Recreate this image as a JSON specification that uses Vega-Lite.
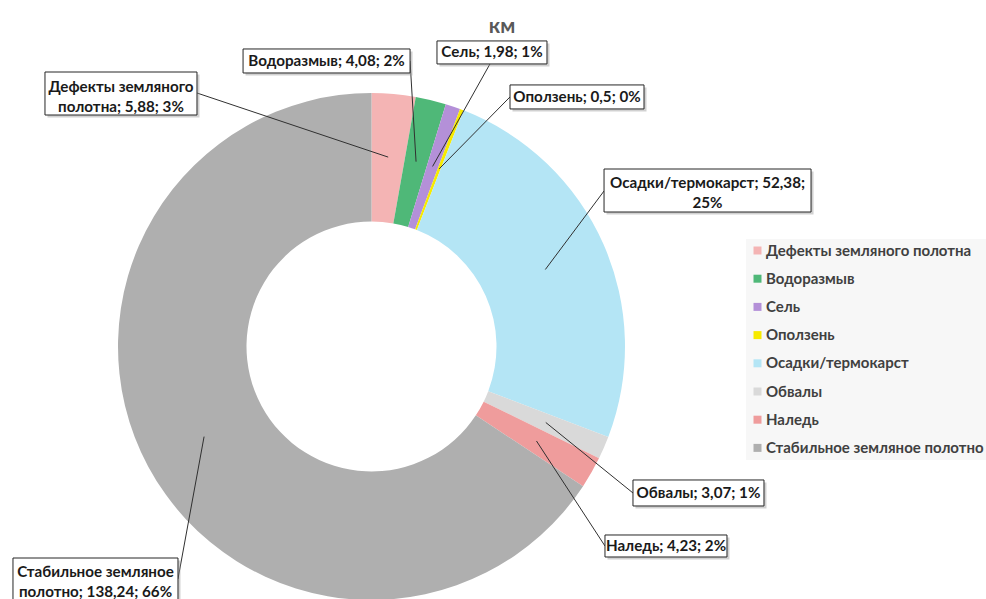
{
  "$schema": "https://vega.github.io/schema/vega-lite/v6.json",
  "width": 986,
  "height": 599,
  "autosize": "none",
  "padding": 0,
  "background": "white",
  "config": {"view": {"stroke": null}},
  "title": {"text": "км", "font": "Lato", "fontSize": 21, "fontWeight": "bold", "color": "#595959", "anchor": "middle", "frame": "group", "dx": 9, "dy": 22, "offset": -32, "baseline": "alphabetic"},
  "data": {"values": [
    {"cat": "Дефекты земляного полотна", "value": 5.88},
    {"cat": "Водоразмыв", "value": 4.08},
    {"cat": "Сель", "value": 1.98},
    {"cat": "Оползень", "value": 0.5},
    {"cat": "Осадки/термокарст", "value": 52.38},
    {"cat": "Обвалы", "value": 3.07},
    {"cat": "Наледь", "value": 4.23},
    {"cat": "Стабильное земляное полотно", "value": 138.24}
  ]},
  "transform": [
    {"window": [{"op": "row_number", "as": "idx"}]},
    {"joinaggregate": [{"op": "sum", "field": "value", "as": "total"}]},
    {"window": [{"op": "sum", "field": "value", "as": "cum"}], "sort": [{"field": "idx"}], "frame": [null, 0]},
    {"calculate": "(datum.cum - datum.value / 2) / datum.total * 2 * PI", "as": "mid"},
    {"calculate": "0.75 * sin(datum.mid)", "as": "ax"},
    {"calculate": "0.75 * cos(datum.mid)", "as": "ay"},
    {"calculate": "replace(toString(datum.value), '.', ',')", "as": "vs"},
    {"calculate": "round(datum.value / datum.total * 100) + '%'", "as": "pct"},
    {"calculate": "datum.cat + '; ' + datum.vs + '; ' + datum.pct", "as": "label"}
  ],
  "layer": [
    {
      "mark": {"type": "arc", "outerRadius": 253.5, "innerRadius": 125},
      "encoding": {
        "x": {"datum": 0, "type": "quantitative", "scale": {"domain": [-1.4655, 2.4241], "nice": false, "zero": false}, "axis": null},
        "y": {"datum": 0, "type": "quantitative", "scale": {"domain": [-0.99606, 1.36686], "nice": false, "zero": false}, "axis": null},
        "theta": {"field": "value", "type": "quantitative", "stack": true},
        "order": {"field": "idx", "type": "quantitative"},
        "color": {
          "field": "cat", "type": "nominal",
          "scale": {
            "domain": ["Дефекты земляного полотна", "Водоразмыв", "Сель", "Оползень", "Осадки/термокарст", "Обвалы", "Наледь", "Стабильное земляное полотно"],
            "range": ["#f4b4b4", "#4fb878", "#b490d8", "#f7ea00", "#b4e5f5", "#d9d9d9", "#ef9c9c", "#afafaf"]
          },
          "legend": {"orient": "none", "legendX": 746, "legendY": 239, "title": null, "symbolType": "square", "symbolSize": 64, "symbolStrokeWidth": 0, "labelFont": "Lato", "labelFontWeight": "bold", "labelFontSize": 15, "labelColor": "#404040", "rowPadding": 12.2, "fillColor": "#f7f7f7", "padding": 4, "labelLimit": 300, "labelOffset": 1}
        }
      }
    },
    {
      "transform": [{"filter": "datum.cat === 'Дефекты земляного полотна'"}, {"calculate": "replace(datum.cat, 'земляного ', 'земляного|') + '; ' + datum.vs + '; ' + datum.pct", "as": "lab"}],
      "encoding": {"x": {"field": "ax", "type": "quantitative"}, "y": {"field": "ay", "type": "quantitative"}},
      "layer": [
        {"mark": {"type": "rule", "x2Offset": -191.2, "y2Offset": -64.1, "color": "#303030", "strokeWidth": 1}, "encoding": {"x2": {"field": "ax"}, "y2": {"field": "ay"}}},
        {"mark": {"type": "rect", "xOffset": -340.7, "x2Offset": -188.7, "yOffset": -82.6, "y2Offset": -39.6, "fill": "#9a9a9a", "opacity": 0.45}, "encoding": {"x2": {"field": "ax"}, "y2": {"field": "ay"}}},
        {"mark": {"type": "rect", "xOffset": -343.2, "x2Offset": -191.2, "yOffset": -85.1, "y2Offset": -42.1, "fill": "white", "stroke": "#262626", "strokeWidth": 1}, "encoding": {"x2": {"field": "ax"}, "y2": {"field": "ay"}}},
        {"mark": {"type": "text", "dx": -267.2, "dy": -70.6, "align": "center", "baseline": "middle", "lineBreak": "|", "lineHeight": 20, "font": "Lato", "fontWeight": "bold", "fontSize": 15.2, "color": "#1a1a1a"}, "encoding": {"text": {"field": "lab"}}}
      ]
    },
    {
      "transform": [{"filter": "datum.cat === 'Водоразмыв'"}],
      "encoding": {"x": {"field": "ax", "type": "quantitative"}, "y": {"field": "ay", "type": "quantitative"}},
      "layer": [
        {"mark": {"type": "rule", "x2Offset": -6, "y2Offset": -100.7, "color": "#303030", "strokeWidth": 1}, "encoding": {"x2": {"field": "ax"}, "y2": {"field": "ay"}}},
        {"mark": {"type": "rect", "xOffset": -170.5, "x2Offset": -3.5, "yOffset": -110.2, "y2Offset": -86.2, "fill": "#9a9a9a", "opacity": 0.45}, "encoding": {"x2": {"field": "ax"}, "y2": {"field": "ay"}}},
        {"mark": {"type": "rect", "xOffset": -173, "x2Offset": -6, "yOffset": -112.7, "y2Offset": -88.7, "fill": "white", "stroke": "#262626", "strokeWidth": 1}, "encoding": {"x2": {"field": "ax"}, "y2": {"field": "ay"}}},
        {"mark": {"type": "text", "dx": -89.5, "dy": -100.7, "align": "center", "baseline": "middle", "font": "Lato", "fontWeight": "bold", "fontSize": 15.2, "color": "#1a1a1a"}, "encoding": {"text": {"field": "label"}}}
      ]
    },
    {
      "transform": [{"filter": "datum.cat === 'Сель'"}],
      "encoding": {"x": {"field": "ax", "type": "quantitative"}, "y": {"field": "ay", "type": "quantitative"}},
      "layer": [
        {"mark": {"type": "rule", "x2Offset": 57.4, "y2Offset": -102.5, "color": "#303030", "strokeWidth": 1}, "encoding": {"x2": {"field": "ax"}, "y2": {"field": "ay"}}},
        {"mark": {"type": "rect", "xOffset": 6.9, "x2Offset": 116.9, "yOffset": -123, "y2Offset": -100, "fill": "#9a9a9a", "opacity": 0.45}, "encoding": {"x2": {"field": "ax"}, "y2": {"field": "ay"}}},
        {"mark": {"type": "rect", "xOffset": 4.4, "x2Offset": 114.4, "yOffset": -125.5, "y2Offset": -102.5, "fill": "white", "stroke": "#262626", "strokeWidth": 1}, "encoding": {"x2": {"field": "ax"}, "y2": {"field": "ay"}}},
        {"mark": {"type": "text", "dx": 59.4, "dy": -114, "align": "center", "baseline": "middle", "font": "Lato", "fontWeight": "bold", "fontSize": 15.2, "color": "#1a1a1a"}, "encoding": {"text": {"field": "label"}}}
      ]
    },
    {
      "transform": [{"filter": "datum.cat === 'Оползень'"}],
      "encoding": {"x": {"field": "ax", "type": "quantitative"}, "y": {"field": "ay", "type": "quantitative"}},
      "layer": [
        {"mark": {"type": "rule", "x2Offset": 70.8, "y2Offset": -71.9, "color": "#303030", "strokeWidth": 1}, "encoding": {"x2": {"field": "ax"}, "y2": {"field": "ay"}}},
        {"mark": {"type": "rect", "xOffset": 73.3, "x2Offset": 207.3, "yOffset": -81.4, "y2Offset": -57.4, "fill": "#9a9a9a", "opacity": 0.45}, "encoding": {"x2": {"field": "ax"}, "y2": {"field": "ay"}}},
        {"mark": {"type": "rect", "xOffset": 70.8, "x2Offset": 204.8, "yOffset": -83.9, "y2Offset": -59.9, "fill": "white", "stroke": "#262626", "strokeWidth": 1}, "encoding": {"x2": {"field": "ax"}, "y2": {"field": "ay"}}},
        {"mark": {"type": "text", "dx": 137.8, "dy": -71.9, "align": "center", "baseline": "middle", "font": "Lato", "fontWeight": "bold", "fontSize": 15.2, "color": "#1a1a1a"}, "encoding": {"text": {"field": "label"}}}
      ]
    },
    {
      "transform": [{"filter": "datum.cat === 'Осадки/термокарст'"}, {"calculate": "datum.cat + '; ' + datum.vs + ';|' + datum.pct", "as": "lab"}],
      "encoding": {"x": {"field": "ax", "type": "quantitative"}, "y": {"field": "ay", "type": "quantitative"}},
      "layer": [
        {"mark": {"type": "rule", "x2Offset": 58.7, "y2Offset": -78.5, "color": "#303030", "strokeWidth": 1}, "encoding": {"x2": {"field": "ax"}, "y2": {"field": "ay"}}},
        {"mark": {"type": "rect", "xOffset": 61.2, "x2Offset": 268.2, "yOffset": -98, "y2Offset": -55, "fill": "#9a9a9a", "opacity": 0.45}, "encoding": {"x2": {"field": "ax"}, "y2": {"field": "ay"}}},
        {"mark": {"type": "rect", "xOffset": 58.7, "x2Offset": 265.7, "yOffset": -100.5, "y2Offset": -57.5, "fill": "white", "stroke": "#262626", "strokeWidth": 1}, "encoding": {"x2": {"field": "ax"}, "y2": {"field": "ay"}}},
        {"mark": {"type": "text", "dx": 162.2, "dy": -86.5, "align": "center", "baseline": "middle", "lineBreak": "|", "lineHeight": 19.5, "font": "Lato", "fontWeight": "bold", "fontSize": 15.2, "color": "#1a1a1a"}, "encoding": {"text": {"field": "lab"}}}
      ]
    },
    {
      "transform": [{"filter": "datum.cat === 'Обвалы'"}],
      "encoding": {"x": {"field": "ax", "type": "quantitative"}, "y": {"field": "ay", "type": "quantitative"}},
      "layer": [
        {"mark": {"type": "rule", "x2Offset": 87.2, "y2Offset": 70.5, "color": "#303030", "strokeWidth": 1}, "encoding": {"x2": {"field": "ax"}, "y2": {"field": "ay"}}},
        {"mark": {"type": "rect", "xOffset": 89.7, "x2Offset": 220.7, "yOffset": 60, "y2Offset": 86, "fill": "#9a9a9a", "opacity": 0.45}, "encoding": {"x2": {"field": "ax"}, "y2": {"field": "ay"}}},
        {"mark": {"type": "rect", "xOffset": 87.2, "x2Offset": 218.2, "yOffset": 57.5, "y2Offset": 83.5, "fill": "white", "stroke": "#262626", "strokeWidth": 1}, "encoding": {"x2": {"field": "ax"}, "y2": {"field": "ay"}}},
        {"mark": {"type": "text", "dx": 152.7, "dy": 70.5, "align": "center", "baseline": "middle", "font": "Lato", "fontWeight": "bold", "fontSize": 15.2, "color": "#1a1a1a"}, "encoding": {"text": {"field": "label"}}}
      ]
    },
    {
      "transform": [{"filter": "datum.cat === 'Наледь'"}],
      "encoding": {"x": {"field": "ax", "type": "quantitative"}, "y": {"field": "ay", "type": "quantitative"}},
      "layer": [
        {"mark": {"type": "rule", "x2Offset": 68.5, "y2Offset": 105, "color": "#303030", "strokeWidth": 1}, "encoding": {"x2": {"field": "ax"}, "y2": {"field": "ay"}}},
        {"mark": {"type": "rect", "xOffset": 71, "x2Offset": 193, "yOffset": 96.5, "y2Offset": 118.5, "fill": "#9a9a9a", "opacity": 0.45}, "encoding": {"x2": {"field": "ax"}, "y2": {"field": "ay"}}},
        {"mark": {"type": "rect", "xOffset": 68.5, "x2Offset": 190.5, "yOffset": 94, "y2Offset": 116, "fill": "white", "stroke": "#262626", "strokeWidth": 1}, "encoding": {"x2": {"field": "ax"}, "y2": {"field": "ay"}}},
        {"mark": {"type": "text", "dx": 129.5, "dy": 105, "align": "center", "baseline": "middle", "font": "Lato", "fontWeight": "bold", "fontSize": 15.2, "color": "#1a1a1a"}, "encoding": {"text": {"field": "label"}}}
      ]
    },
    {
      "transform": [{"filter": "datum.cat === 'Стабильное земляное полотно'"}, {"calculate": "replace(datum.cat, 'земляное ', 'земляное|') + '; ' + datum.vs + '; ' + datum.pct", "as": "lab"}],
      "encoding": {"x": {"field": "ax", "type": "quantitative"}, "y": {"field": "ay", "type": "quantitative"}},
      "layer": [
        {"mark": {"type": "rule", "x2Offset": -26.1, "y2Offset": 142.4, "color": "#303030", "strokeWidth": 1}, "encoding": {"x2": {"field": "ax"}, "y2": {"field": "ay"}}},
        {"mark": {"type": "rect", "xOffset": -188.6, "x2Offset": -23.6, "yOffset": 123.9, "y2Offset": 171.9, "fill": "#9a9a9a", "opacity": 0.45}, "encoding": {"x2": {"field": "ax"}, "y2": {"field": "ay"}}},
        {"mark": {"type": "rect", "xOffset": -191.1, "x2Offset": -26.1, "yOffset": 121.4, "y2Offset": 169.4, "fill": "white", "stroke": "#262626", "strokeWidth": 1}, "encoding": {"x2": {"field": "ax"}, "y2": {"field": "ay"}}},
        {"mark": {"type": "text", "dx": -108.6, "dy": 135.4, "align": "center", "baseline": "middle", "lineBreak": "|", "lineHeight": 20, "font": "Lato", "fontWeight": "bold", "fontSize": 15.2, "color": "#1a1a1a"}, "encoding": {"text": {"field": "lab"}}}
      ]
    }
  ]
}
